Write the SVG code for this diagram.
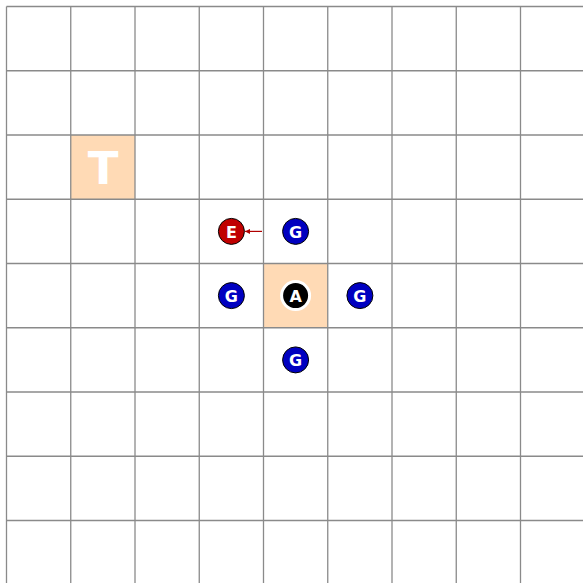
<svg xmlns="http://www.w3.org/2000/svg" width="583" height="583" viewBox="0 0 583 583">
<style>
.grid line{stroke:#8a8a8a;stroke-width:1.3}
.cell{fill:#FFDAB5}
.tok text{font-family:"DejaVu Sans",sans-serif;font-weight:bold;font-size:16px;fill:#fff;text-anchor:middle;dominant-baseline:central}
.g{fill:#0000C0;stroke:#000;stroke-width:1}
.e{fill:#C00000;stroke:#000;stroke-width:1}
.a{fill:#000;stroke:#fff;stroke-width:3}
</style>
<defs>
<marker id="ah" viewBox="0 0 10 10" refX="10" refY="5" markerWidth="7" markerHeight="5" orient="auto" markerUnits="userSpaceOnUse">
<path d="M0,0 L10,5 L0,10 z" fill="#B00000"/>
</marker>
</defs>
<rect width="583" height="583" fill="#fff"/>
<rect class="cell" x="70.75" y="135" width="64.25" height="64.25"/>
<rect class="cell" x="263.5" y="263.5" width="64.25" height="64.25"/>
<g class="grid">
<line x1="6.5" y1="6.5" x2="6.5" y2="583"/>
<line x1="70.75" y1="6.5" x2="70.75" y2="583"/>
<line x1="135" y1="6.5" x2="135" y2="583"/>
<line x1="199.25" y1="6.5" x2="199.25" y2="583"/>
<line x1="263.5" y1="6.5" x2="263.5" y2="583"/>
<line x1="327.75" y1="6.5" x2="327.75" y2="583"/>
<line x1="392" y1="6.5" x2="392" y2="583"/>
<line x1="456.25" y1="6.5" x2="456.25" y2="583"/>
<line x1="520.5" y1="6.5" x2="520.5" y2="583"/>
<line x1="6.5" y1="6.5" x2="583" y2="6.5"/>
<line x1="6.5" y1="70.75" x2="583" y2="70.75"/>
<line x1="6.5" y1="135" x2="583" y2="135"/>
<line x1="6.5" y1="199.25" x2="583" y2="199.25"/>
<line x1="6.5" y1="263.5" x2="583" y2="263.5"/>
<line x1="6.5" y1="327.75" x2="583" y2="327.75"/>
<line x1="6.5" y1="392" x2="583" y2="392"/>
<line x1="6.5" y1="456.25" x2="583" y2="456.25"/>
<line x1="6.5" y1="520.5" x2="583" y2="520.5"/>
</g>
<g id="target"><text x="103" y="184" font-family="DejaVu Sans,sans-serif" font-weight="bold" font-size="45" fill="#fff" text-anchor="middle">T</text></g>
<g id="connectors"><line x1="262" y1="231.4" x2="245" y2="231.4" stroke="#B00000" stroke-width="1.2" marker-end="url(#ah)"/></g>
<g id="E" class="tok"><circle class="e" cx="231.4" cy="231.4" r="13"/><text x="231.4" y="232">E</text></g>
<g id="G1" class="tok"><circle class="g" cx="295.6" cy="231.4" r="13"/><text x="295.6" y="232">G</text></g>
<g id="G2" class="tok"><circle class="g" cx="231.4" cy="295.6" r="13"/><text x="231.4" y="296.2">G</text></g>
<g id="A" class="tok"><circle class="a" cx="295.6" cy="295.6" r="14"/><text x="295.6" y="296.2">A</text></g>
<g id="G3" class="tok"><circle class="g" cx="359.9" cy="295.6" r="13"/><text x="359.9" y="296.2">G</text></g>
<g id="G4" class="tok"><circle class="g" cx="295.6" cy="359.9" r="13"/><text x="295.6" y="360.5">G</text></g>
</svg>
